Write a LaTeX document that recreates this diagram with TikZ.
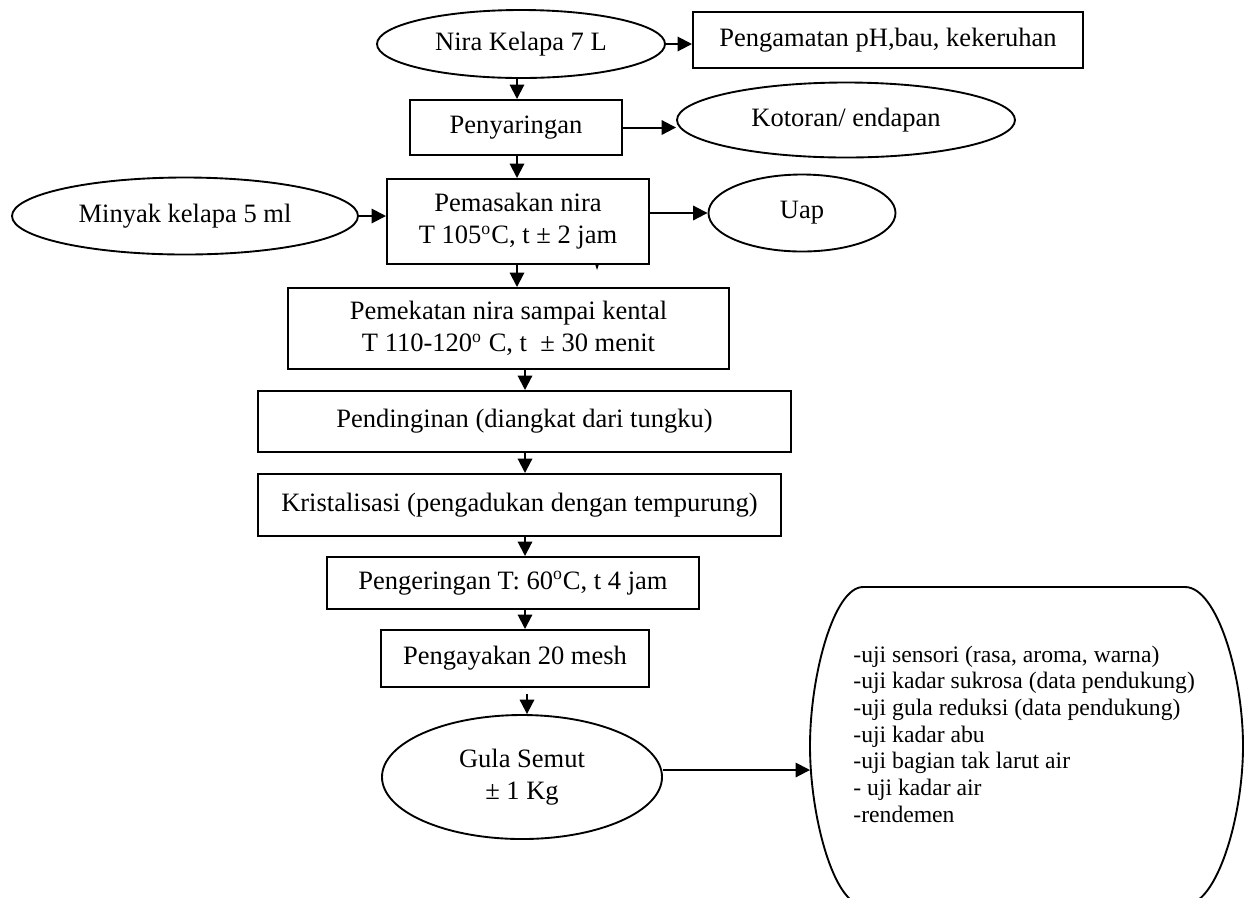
\documentclass[tikz,border=0pt]{standalone}
\usepackage{fontspec}
\setmainfont{Liberation Serif}
\usetikzlibrary{shapes.geometric,arrows.meta}
\newcommand\pxu{0.4525pt}
\begin{document}
\begin{tikzpicture}[x=0.4525pt,y=-0.4525pt,
  every node/.style={font=\fontsize{12}{14.5}\selectfont, inner sep=0pt, align=center},
  boxn/.style={draw, line width=0.9pt, rectangle},
  elln/.style={draw, line width=0.85pt, ellipse},
  listn/.style={font=\fontsize{10.7}{12}\selectfont, anchor=base west, align=left},
  arr/.style={line width=0.9pt, -{Triangle[length=6.5pt,width=6.5pt]}},
]
\useasboundingbox (0,0) rectangle (1251,897);

\node[elln, minimum width={288*\pxu}, minimum height={68*\pxu}] (nira) at (521,44) {Nira Kelapa 7 L};
\node[boxn, minimum width={390*\pxu}, minimum height={56*\pxu}] (amat) at (888,40) {Pengamatan pH,bau, kekeruhan};
\node[boxn, minimum width={212*\pxu}, minimum height={55*\pxu}] (saring) at (516,127.5) {Penyaringan};
\node[elln, minimum width={338*\pxu}, minimum height={75*\pxu}] (kotor) at (846,120) {Kotoran/ endapan};
\node[elln, minimum width={346*\pxu}, minimum height={77*\pxu}] (minyak) at (185,216) {Minyak kelapa 5 ml};
\node[boxn, minimum width={262*\pxu}, minimum height={85*\pxu}] (masak) at (518,221.5) {Pemasakan nira\\T 105\textsuperscript{o}C, t ± 2 jam};
\node[elln, minimum width={187*\pxu}, minimum height={77*\pxu}] (uap) at (802,213) {Uap};
\node[boxn, minimum width={441*\pxu}, minimum height={81*\pxu}] (pekat) at (508.5,328.5) {Pemekatan nira sampai kental\\T 110-120\textsuperscript{o} C, t\ \ ± 30 menit};
\node[boxn, minimum width={533*\pxu}, minimum height={61*\pxu}] (dingin) at (524.5,421.5) {Pendinginan (diangkat dari tungku)};
\node[boxn, minimum width={523*\pxu}, minimum height={62*\pxu}] (kristal) at (519.5,505) {Kristalisasi (pengadukan dengan tempurung)};
\node[boxn, minimum width={372*\pxu}, minimum height={52*\pxu}] (kering) at (513,583) {Pengeringan T: 60\textsuperscript{o}C, t 4 jam};
\node[boxn, minimum width={268*\pxu}, minimum height={57*\pxu}] (ayak) at (515,658.5) {Pengayakan 20 mesh};
\node[elln, minimum width={280*\pxu}, minimum height={124*\pxu}] (gula) at (522,777) {Gula Semut\\± 1 Kg};

% result shape (cut off at the bottom)
\draw[line width=0.85pt] (863,587) -- (1185,587)
  .. controls (1217,587) and (1243,675) .. (1243,746)
  .. controls (1243,817) and (1217,905) .. (1185,905)
  -- (863,905)
  .. controls (834,905) and (810,817) .. (810,746)
  .. controls (810,675) and (834,587) .. (863,587) -- cycle;
\coordinate (listin) at (810,770);

\node[listn] (l1) at (853,662) {-uji sensori (rasa, aroma, warna)};
\node[listn] (l2) at (853,688.7) {-uji kadar sukrosa (data pendukung)};
\node[listn] (l3) at (853,715.3) {-uji gula reduksi (data pendukung)};
\node[listn] (l4) at (853,742) {-uji kadar abu};
\node[listn] (l5) at (853,768.7) {-uji bagian tak larut air};
\node[listn] (l6) at (853,795.3) {- uji kadar air};
\node[listn] (l7) at (853,822) {-rendemen};

\coordinate (xa) at (517,0);
\coordinate (xb) at (525,0);
\coordinate (xc) at (527,0);

\draw[arr] (nira.east) -- (amat.west |- nira.east);
\draw[arr] (nira.south -| xa) -- (saring.north -| xa);
\draw[arr] (saring.east) -- (kotor.west |- saring.east);
\draw[arr] (saring.south -| xa) -- (masak.north -| xa);
\draw[arr] (minyak.east) -- (masak.west |- minyak.east);
\draw[arr] (masak.east |- uap.west) -- (uap.west);
\draw[arr] (masak.south -| xa) -- (pekat.north -| xa);
\draw[arr] (pekat.south -| xb) -- (dingin.north -| xb);
\draw[arr] (dingin.south -| xb) -- (kristal.north -| xb);
\draw[arr] (kristal.south -| xb) -- (kering.north -| xb);
\draw[arr] (kering.south -| xb) -- (ayak.north -| xb);
\draw[arr] ([yshift={-6*\pxu}]ayak.south -| xc) -- (gula.north -| xc);
\draw[arr] (gula.east |- listin) -- (listin);

% small stray mark below the cooking box
\fill (595,264) -- (599,264) -- (597,270) -- cycle;
\end{tikzpicture}
\end{document}
